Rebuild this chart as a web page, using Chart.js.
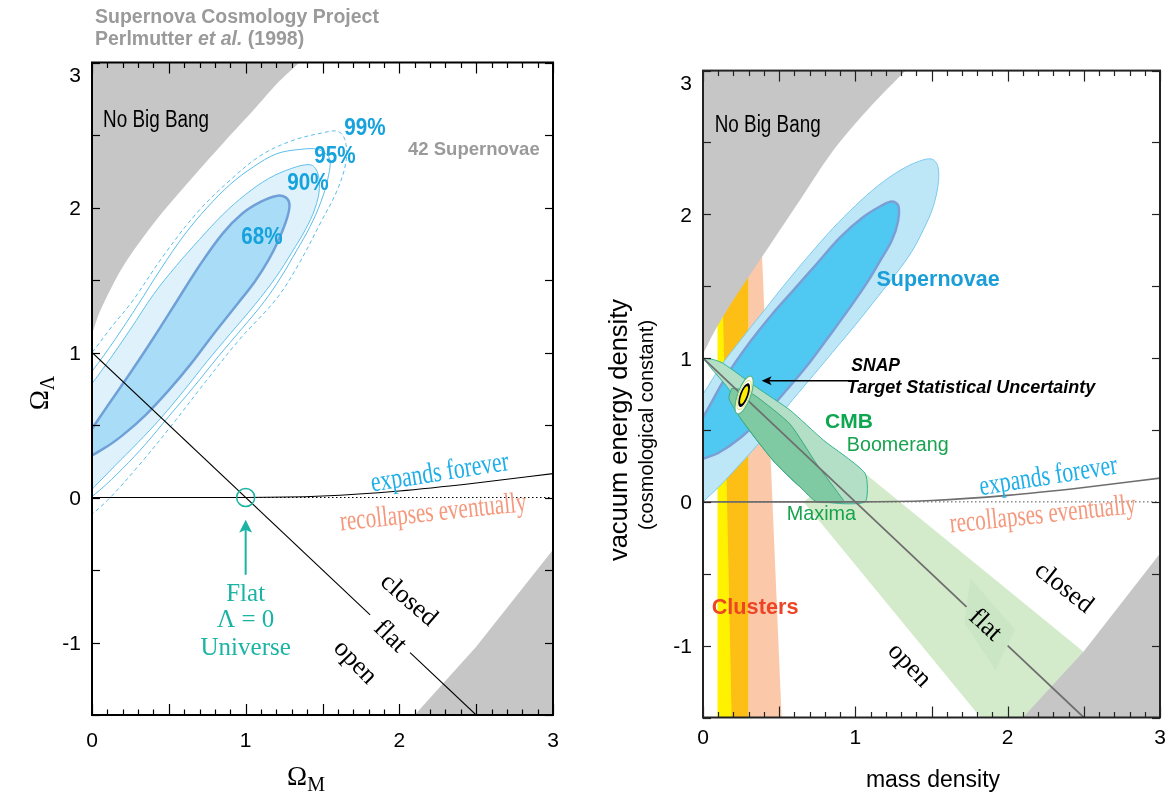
<!DOCTYPE html>
<html><head><meta charset="utf-8">
<script src="https://cdn.jsdelivr.net/npm/chart.js@4.4.1/dist/chart.umd.min.js"></script>
<style>
html,body{margin:0;padding:0;background:#fff;width:1171px;height:798px;overflow:hidden}
canvas{position:absolute;top:0}
#c1{left:0}
#c2{left:585px}
</style></head><body>
<canvas id="c1" width="585" height="798"></canvas>
<canvas id="c2" width="586" height="798"></canvas>
<script>
// ---------------- DATA (Omega_M, Omega_Lambda) ----------------
const xTickLabels = [0, 1, 2, 3];
const yTickLabels = [-1, 0, 1, 2, 3];

// Left panel: Perlmutter et al. (1998)
const leftNoBigBang = [[-0.1,3.1],[-0.1,0.9],[0,1.13],[0.05,1.28],[0.2,1.59],[0.42,1.915],[0.64,2.19],[0.85,2.44],[1.05,2.67],[1.2,2.85],[1.35,3.0],[1.45,3.1],[-0.1,3.1]];
const leftLowerGray = [[2.1,-1.6],[2.1,-1.5],[2.5,-1.03],[3,-0.36],[3.1,-0.36],[3.1,-1.6],[2.1,-1.6]];
const left68 = [[-0.06,0.38],[0.1,0.63],[0.25,0.86],[0.4,1.1],[0.55,1.35],[0.7,1.6],[0.85,1.82],[0.98,1.96],[1.1,2.04],[1.2,2.08],[1.26,2.07],[1.285,2.02],[1.27,1.93],[1.22,1.79],[1.15,1.64],[1.06,1.49],[0.95,1.34],[0.8,1.14],[0.65,0.93],[0.5,0.74],[0.35,0.57],[0.2,0.43],[0.08,0.34],[-0.06,0.27],[-0.06,0.38]];
const left90 = [[-0.06,0.7],[0.1,0.93],[0.25,1.16],[0.4,1.4],[0.55,1.6],[0.7,1.78],[0.85,1.95],[1.0,2.09],[1.15,2.2],[1.3,2.27],[1.42,2.295],[1.465,2.25],[1.48,2.13],[1.45,1.99],[1.39,1.85],[1.3,1.69],[1.2,1.524],[1.06,1.33],[0.9,1.13],[0.75,0.94],[0.6,0.74],[0.45,0.55],[0.3,0.38],[0.15,0.22],[0.017,0.076],[-0.06,0.0],[-0.06,0.7]];
const left95 = [[-0.06,0.8],[0.0,0.87],[0.15,1.09],[0.3,1.33],[0.45,1.58],[0.6,1.81],[0.75,2.0],[0.9,2.16],[1.05,2.28],[1.2,2.37],[1.35,2.4],[1.47,2.4],[1.545,2.34],[1.535,2.2],[1.49,2.04],[1.42,1.87],[1.33,1.7],[1.23,1.52],[1.12,1.35],[0.98,1.17],[0.82,0.97],[0.66,0.76],[0.5,0.56],[0.35,0.37],[0.2,0.2],[0.05,0.05],[-0.06,-0.04]];
const left99 = [[-0.06,0.93],[0.0,1.0],[0.13,1.18],[0.26,1.35],[0.46,1.66],[0.68,1.96],[0.9,2.19],[1.1,2.36],[1.3,2.46],[1.5,2.515],[1.6,2.525],[1.645,2.47],[1.655,2.33],[1.6,2.13],[1.49,1.9],[1.34,1.6],[1.2,1.37],[0.96,1.09],[0.74,0.8],[0.52,0.5],[0.3,0.215],[0.1,-0.02],[-0.06,-0.17]];

// boundaries shared by both panels
const expansionCurve = [[0,0],[1,0],[1.5,0.01],[2,0.045],[2.5,0.1],[3,0.165]];
const zeroLine = [[0,0],[3,0]];
const leftFlat1 = [[0,1],[1.81,-0.81]];
const leftFlat2 = [[2.07,-1.07],[2.5,-1.5]];
const flatPoint = [1, 0];

// Right panel
const rightNoBigBang = [[-0.1,3.1],[-0.1,0.85],[0,1.03],[0.068,1.172],[0.199,1.404],[0.418,1.752],[0.637,2.1],[0.856,2.446],[1.1,2.75],[1.33,3.0],[1.42,3.1],[-0.1,3.1]];
const rightLowerGray = [[2.1,-1.6],[2.1,-1.5],[2.5,-1.04],[3,-0.36],[3.1,-0.36],[3.1,-1.6],[2.1,-1.6]];
const clustersYellow = [[0.095,-1.6],[0.3,-1.6],[0.3,2.0],[0.095,2.0]];
const clustersOrange = [[0.19,-1.6],[0.297,-1.6],[0.297,2.0],[0.118,2.0]];
const clustersPeach  = [[0.297,-1.6],[0.52,-1.6],[0.376,2.0],[0.297,2.0]];
const snOuter = [[-0.06,0.68],[0.0,0.75],[0.12,0.95],[0.25,1.13],[0.4,1.33],[0.55,1.53],[0.7,1.72],[0.85,1.9],[1.0,2.06],[1.15,2.2],[1.3,2.31],[1.42,2.37],[1.5,2.385],[1.54,2.34],[1.545,2.22],[1.51,2.05],[1.45,1.9],[1.37,1.74],[1.27,1.59],[1.15,1.43],[1.0,1.23],[0.85,1.04],[0.7,0.85],[0.55,0.66],[0.4,0.45],[0.25,0.27],[0.1,0.1],[0.0,0.0],[-0.06,-0.07],[-0.06,0.68]];
const snInner = [[-0.06,0.52],[0.0,0.59],[0.15,0.87],[0.3,1.1],[0.45,1.3],[0.6,1.48],[0.75,1.66],[0.9,1.84],[1.05,1.98],[1.17,2.06],[1.24,2.09],[1.282,2.06],[1.28,1.95],[1.24,1.82],[1.17,1.69],[1.08,1.53],[0.97,1.36],[0.84,1.17],[0.7,0.97],[0.55,0.78],[0.4,0.6],[0.25,0.45],[0.1,0.34],[0.0,0.3],[-0.06,0.27],[-0.06,0.52]];
const cmbBand = [[0.72,0.05],[1.064,0.198],[2.46,-1.01],[2.56,-1.1],[2.3,-1.6],[1.9,-1.6],[0.66,0.0],[0.72,0.05]];
const cmbDiamond = [[1.755,-0.53],[2.05,-0.89],[1.92,-1.17],[1.716,-0.845],[1.755,-0.53]];
const boomerang = [[0,1.0],[0.068,0.99],[0.133,0.963],[0.353,0.796],[0.571,0.638],[0.79,0.43],[1.064,0.198],[1.064,0.0],[0.8,0.0],[0.637,0.104],[0.462,0.285],[0.243,0.587],[0.177,0.772],[0.068,0.912],[0,1.0]];
const maxima = [[0.188,0.789],[0.27,0.78],[0.353,0.731],[0.571,0.541],[0.747,0.262],[0.921,0.012],[0.92,0.0],[0.747,0.0],[0.637,0.104],[0.462,0.285],[0.243,0.587],[0.17,0.72],[0.188,0.789]];
const rightFlat1 = [[0,1],[1.73,-0.73]];
const rightFlat2 = [[2.0,-1.0],[2.5,-1.5]];
const snapTarget = [0.27, 0.743];

// ---------------- helpers ----------------
const SANS = '"Liberation Sans", Arial, Helvetica, sans-serif';
const SERIF = '"Liberation Serif", "Times New Roman", serif';
const P = a => a.map(p => ({x: p[0], y: p[1]}));
function shape(pts, o) {
  return Object.assign({data: P(pts), fill: 'shape', pointRadius: 0, borderWidth: 0, tension: 0,
    backgroundColor: 'transparent', borderColor: 'transparent'}, o);
}
function path(pts, o) {
  return Object.assign({data: P(pts), fill: false, pointRadius: 0, borderWidth: 1, tension: 0, borderColor: '#000'}, o);
}
function txt(ctx, s, x, y, o) {
  ctx.save();
  ctx.translate(x, y);
  if (o.rot) ctx.rotate(o.rot * Math.PI / 180);
  if (o.sx) ctx.scale(o.sx, 1);
  ctx.font = o.font; ctx.fillStyle = o.color || '#000';
  ctx.textAlign = o.align || 'center'; ctx.textBaseline = o.baseline || 'middle';
  ctx.fillText(s, 0, 0);
  ctx.restore();
}
function seg(ctx, x1, y1, x2, y2) { ctx.beginPath(); ctx.moveTo(x1, y1); ctx.lineTo(x2, y2); ctx.stroke(); }

function axesPlugin(o) {
  return {
    id: 'axes_' + o.key,
    afterDatasetsDraw(chart) {
      const {ctx, chartArea: a, scales: {x, y}} = chart;
      ctx.save();
      ctx.strokeStyle = o.color; ctx.lineWidth = 1.2;
      for (let i = 0; i <= 30; i++) {
        const px = Math.round(x.getPixelForValue(i / 10)) + 0.5;
        const L = (i % 5 === 0) ? 11 : 5.5;
        seg(ctx, px, a.bottom, px, a.bottom - L);
        seg(ctx, px, a.top, px, a.top + L);
      }
      for (let i = 0; i <= 9; i++) {
        const py = Math.round(y.getPixelForValue(-1.5 + i * 0.5)) + 0.5;
        seg(ctx, a.left, py, a.left + 8, py);
        seg(ctx, a.right, py, a.right - 8, py);
      }
      ctx.lineWidth = 2;
      ctx.strokeRect(a.left, a.top, a.right - a.left, a.bottom - a.top);
      ctx.fillStyle = '#000';
      ctx.font = `21px ${SANS}`;
      ctx.textAlign = 'center'; ctx.textBaseline = 'alphabetic';
      xTickLabels.forEach(v => ctx.fillText(String(v), x.getPixelForValue(v), o.xLabelBase));
      ctx.textAlign = 'right';
      yTickLabels.forEach(v => {
        const py = Math.max(y.getPixelForValue(v), a.top + 12);
        ctx.fillText(String(v), a.left - o.yLabelGap, py + 7.5);
      });
      ctx.restore();
      o.extra(chart);
    }
  };
}

function makeChart(id, padding, layers, plugins) {
  const n = layers.length;
  layers.forEach((d, i) => { d.order = n - i; });
  return new Chart(document.getElementById(id), {
    type: 'line',
    data: {datasets: layers},
    options: {
      responsive: false, animation: false, events: [],
      layout: {padding},
      plugins: {legend: {display: false}, tooltip: {enabled: false}},
      scales: {
        x: {type: 'linear', min: 0, max: 3, display: false},
        y: {type: 'linear', min: -1.5, max: 3, display: false}
      },
      elements: {line: {capBezierPoints: false}}
    },
    plugins
  });
}

const GRAY = '#c6c6c6';
const PCT = '#16a2dd';
const CYAN = '#1eaee8';
const SALMON = '#f5987c';
const TEAL = '#1bb4a4';

// ---------------- LEFT PANEL ----------------
const leftLayers = [
  shape(leftNoBigBang, {backgroundColor: GRAY, tension: 0.3}),
  shape(leftLowerGray, {backgroundColor: GRAY}),
  path(left99, {borderColor: '#5cbde9', borderWidth: 1, borderDash: [4, 3], tension: 0.35}),
  path(left95, {borderColor: '#5cbde9', borderWidth: 1, tension: 0.35}),
  shape(left90, {backgroundColor: '#dff2fb', borderColor: '#62c0ea', borderWidth: 1, tension: 0.35}),
  shape(left68, {backgroundColor: '#a9ddf7', borderColor: '#6fa0d8', borderWidth: 2.5, tension: 0.35}),
  path(zeroLine, {borderColor: '#000', borderWidth: 1, borderDash: [1.5, 2.5]}),
  path(expansionCurve, {borderColor: '#000', borderWidth: 1.1, cubicInterpolationMode: 'monotone'}),
  path(leftFlat1, {borderColor: '#000', borderWidth: 1.1}),
  path(leftFlat2, {borderColor: '#000', borderWidth: 1.1})
];

function leftExtra(chart) {
  const {ctx, scales: {x, y}} = chart;
  const X = v => x.getPixelForValue(v), Y = v => y.getPixelForValue(v);
  // header
  ctx.save();
  ctx.fillStyle = '#9a9a9a'; ctx.textBaseline = 'alphabetic'; ctx.textAlign = 'left';
  ctx.font = `bold 19.5px ${SANS}`;
  ctx.fillText('Supernova Cosmology Project', 95, 22.5);
  let cx = 95;
  ctx.fillText('Perlmutter ', cx, 45); cx += ctx.measureText('Perlmutter ').width;
  ctx.font = `italic bold 19.5px ${SANS}`;
  ctx.fillText('et al.', cx, 45); cx += ctx.measureText('et al.').width;
  ctx.font = `bold 19.5px ${SANS}`;
  ctx.fillText(' (1998)', cx, 45);
  ctx.restore();

  txt(ctx, 'No Big Bang', X(0.072), Y(2.6), {font: `23px ${SANS}`, align: 'left', sx: 0.82});
  txt(ctx, '99%', X(1.776), Y(2.549), {font: `bold 24px ${SANS}`, color: PCT, sx: 0.86});
  txt(ctx, '95%', X(1.581), Y(2.35), {font: `bold 24px ${SANS}`, color: PCT, sx: 0.86});
  txt(ctx, '90%', X(1.405), Y(2.163), {font: `bold 24px ${SANS}`, color: PCT, sx: 0.86});
  txt(ctx, '68%', X(1.106), Y(1.797), {font: `bold 24px ${SANS}`, color: PCT, sx: 0.86});
  txt(ctx, '42 Supernovae', X(2.485), Y(2.4), {font: `bold 18.5px ${SANS}`, color: '#9a9a9a'});
  txt(ctx, 'expands forever', X(2.264), Y(0.168), {font: `29px ${SERIF}`, color: CYAN, rot: -9, sx: 0.75});
  txt(ctx, 'recollapses eventually', X(2.22), Y(-0.108), {font: `29px ${SERIF}`, color: SALMON, rot: -6, sx: 0.73});
  txt(ctx, 'closed', X(2.06), Y(-0.71), {font: `26px ${SERIF}`, rot: 41});
  txt(ctx, 'flat', X(1.939), Y(-0.959), {font: `26px ${SERIF}`, rot: 44});
  txt(ctx, 'open', X(1.711), Y(-1.138), {font: `26px ${SERIF}`, rot: 46});
  txt(ctx, 'Flat', X(1), Y(-0.671), {font: `25px ${SERIF}`, color: TEAL});
  txt(ctx, 'Λ = 0', X(1), Y(-0.85), {font: `25px ${SERIF}`, color: TEAL});
  txt(ctx, 'Universe', X(1), Y(-1.043), {font: `25px ${SERIF}`, color: TEAL});

  // flat-universe marker and arrow
  ctx.save();
  ctx.strokeStyle = TEAL; ctx.fillStyle = TEAL; ctx.lineWidth = 1.5;
  ctx.beginPath(); ctx.arc(X(flatPoint[0]), Y(flatPoint[1]), 9, 0, Math.PI * 2); ctx.stroke();
  const ax = X(1), tip = Y(-0.154), base = Y(-0.533);
  ctx.lineWidth = 2;
  seg(ctx, ax, base, ax, tip + 8);
  ctx.beginPath(); ctx.moveTo(ax, tip); ctx.lineTo(ax - 6.5, tip + 13); ctx.lineTo(ax, tip + 10); ctx.lineTo(ax + 6.5, tip + 13); ctx.closePath(); ctx.fill();
  ctx.restore();

  // axis titles
  ctx.save();
  ctx.fillStyle = '#000'; ctx.textBaseline = 'alphabetic'; ctx.textAlign = 'left';
  ctx.font = `27px ${SERIF}`;
  const wO = ctx.measureText('Ω').width;
  ctx.font = `20px ${SERIF}`;
  const wM = ctx.measureText('M').width;
  let sx0 = 306 - (wO + wM) / 2;
  ctx.font = `27px ${SERIF}`; ctx.fillText('Ω', sx0, 785);
  ctx.font = `20px ${SERIF}`; ctx.fillText('M', sx0 + wO, 791);
  // y title
  ctx.translate(48, 393); ctx.rotate(-Math.PI / 2);
  ctx.font = `20px ${SERIF}`;
  const wL = ctx.measureText('Λ').width;
  ctx.font = `27px ${SERIF}`;
  const start = -(wO + wL) / 2;
  ctx.fillText('Ω', start, 0);
  ctx.font = `20px ${SERIF}`; ctx.fillText('Λ', start + wO, 6);
  ctx.restore();
}

makeChart('c1', {left: 92, top: 62.5, right: 32, bottom: 83}, leftLayers,
  [axesPlugin({key: 'L', color: '#000', xLabelBase: 746.5, yLabelGap: 11, extra: leftExtra})]);

// ---------------- RIGHT PANEL ----------------
const rightLayers = [
  shape(clustersYellow, {backgroundColor: '#fff200'}),
  shape(clustersOrange, {backgroundColor: '#fdbf16'}),
  shape(clustersPeach, {backgroundColor: 'rgba(250,190,155,0.85)'}),
  shape(rightNoBigBang, {backgroundColor: GRAY, tension: 0.3}),
  shape(snOuter, {backgroundColor: '#bde6f7', borderColor: '#7ccaee', borderWidth: 1, tension: 0.35}),
  shape(snInner, {backgroundColor: '#4fc9f1', borderColor: '#7a9fd6', borderWidth: 2.5, tension: 0.35}),
  shape(cmbBand, {backgroundColor: 'rgba(200,230,190,0.8)'}),
  shape(cmbDiamond, {backgroundColor: 'rgba(150,195,145,0.12)'}),
  shape(rightLowerGray, {backgroundColor: GRAY}),
  shape(boomerang, {backgroundColor: '#b2dfc5', borderColor: '#34b292', borderWidth: 1, tension: 0.2}),
  shape(maxima, {backgroundColor: '#7fc9a3', borderColor: '#3eaa80', borderWidth: 1, tension: 0.2}),
  path(zeroLine, {borderColor: '#555', borderWidth: 1, borderDash: [1.5, 2.5]}),
  path(expansionCurve, {borderColor: '#6e6e6e', borderWidth: 1.6, cubicInterpolationMode: 'monotone'}),
  path(rightFlat1, {borderColor: '#6e6e6e', borderWidth: 1.8}),
  path(rightFlat2, {borderColor: '#6e6e6e', borderWidth: 1.8})
];

function rightExtra(chart) {
  const {ctx, scales: {x, y}} = chart;
  const X = v => x.getPixelForValue(v), Y = v => y.getPixelForValue(v);
  txt(ctx, 'No Big Bang', X(0.077), Y(2.614), {font: `23px ${SANS}`, align: 'left', sx: 0.82});
  txt(ctx, 'Supernovae', X(1.543), Y(1.543), {font: `bold 21.5px ${SANS}`, color: '#1a9ed8'});
  txt(ctx, 'SNAP', X(0.974), Y(0.944), {font: `italic bold 17.5px ${SANS}`, align: 'left'});
  txt(ctx, 'Target Statistical Uncertainty', X(0.944), Y(0.791), {font: `italic bold 18px ${SANS}`, align: 'left'});
  txt(ctx, 'CMB', X(0.801), Y(0.555), {font: `bold 21px ${SANS}`, color: '#0fa650', align: 'left'});
  txt(ctx, 'Boomerang', X(0.944), Y(0.395), {font: `19.7px ${SANS}`, color: '#17a34e', align: 'left'});
  txt(ctx, 'Maxima', X(0.55), Y(-0.085), {font: `19.8px ${SANS}`, color: '#17a34e', align: 'left'});
  txt(ctx, 'Clusters', X(0.057), Y(-0.735), {font: `bold 21.7px ${SANS}`, color: '#ee4426', align: 'left'});
  txt(ctx, 'expands forever', X(2.267), Y(0.174), {font: `29px ${SERIF}`, color: CYAN, rot: -9, sx: 0.75});
  txt(ctx, 'recollapses eventually', X(2.231), Y(-0.093), {font: `29px ${SERIF}`, color: SALMON, rot: -6, sx: 0.73});
  txt(ctx, 'closed', X(2.368), Y(-0.6), {font: `26px ${SERIF}`, rot: 38});
  txt(ctx, 'flat', X(1.852), Y(-0.858), {font: `26px ${SERIF}`, rot: 43});
  txt(ctx, 'open', X(1.353), Y(-1.137), {font: `26px ${SERIF}`, rot: 46});

  // SNAP ellipse
  ctx.save();
  const ex = X(snapTarget[0]), ey = Y(snapTarget[1]), rot = 20 * Math.PI / 180;
  ctx.fillStyle = '#ffffff'; ctx.strokeStyle = '#59b88e'; ctx.lineWidth = 1.3;
  ctx.beginPath(); ctx.ellipse(ex, ey, 6.5, 20, rot, 0, Math.PI * 2); ctx.fill(); ctx.stroke();
  ctx.strokeStyle = '#d8e86a'; ctx.lineWidth = 1;
  ctx.beginPath(); ctx.ellipse(ex, ey, 5.2, 15.5, rot, 0, Math.PI * 2); ctx.stroke();
  ctx.fillStyle = '#000';
  ctx.beginPath(); ctx.ellipse(ex, ey, 4.3, 12.5, rot, 0, Math.PI * 2); ctx.fill();
  ctx.fillStyle = '#ffec00';
  ctx.beginPath(); ctx.ellipse(ex, ey, 2.6, 9.5, rot, 0, Math.PI * 2); ctx.fill();
  // arrow
  const ay = Y(0.842), tipX = X(0.385), endX = X(0.965);
  ctx.strokeStyle = '#000'; ctx.fillStyle = '#000'; ctx.lineWidth = 1.4;
  seg(ctx, endX, ay, tipX + 6, ay);
  ctx.beginPath(); ctx.moveTo(tipX, ay); ctx.lineTo(tipX + 10, ay - 4.5); ctx.lineTo(tipX + 7.5, ay); ctx.lineTo(tipX + 10, ay + 4.5); ctx.closePath(); ctx.fill();
  ctx.restore();

  // axis titles
  ctx.save();
  ctx.fillStyle = '#000'; ctx.textBaseline = 'alphabetic'; ctx.textAlign = 'center';
  ctx.font = `23px ${SANS}`;
  ctx.fillText('mass density', 933 - 585, 787);
  ctx.save();
  ctx.translate(627 - 585, 430); ctx.rotate(-Math.PI / 2);
  ctx.font = `25.5px ${SANS}`;
  ctx.fillText('vacuum energy density', 0, 0);
  ctx.restore();
  ctx.translate(653 - 585, 425); ctx.rotate(-Math.PI / 2);
  ctx.font = `20px ${SANS}`;
  ctx.fillText('(cosmological constant)', 0, 0);
  ctx.restore();
}

makeChart('c2', {left: 118, top: 70.6, right: 11, bottom: 80.5}, rightLayers,
  [axesPlugin({key: 'R', color: '#222', xLabelBase: 744, yLabelGap: 11, extra: rightExtra})]);
</script>
</body></html>
